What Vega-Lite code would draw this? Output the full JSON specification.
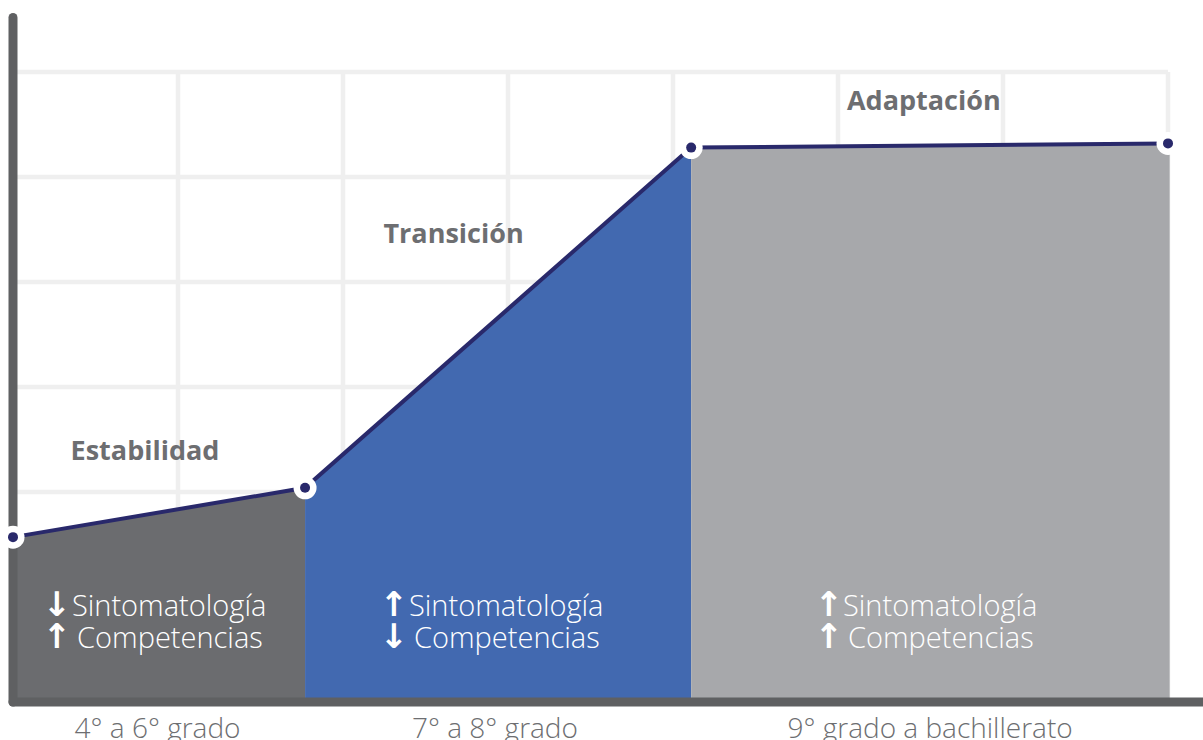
{
  "$schema": "https://vega.github.io/schema/vega-lite/v6.json",
  "width": 1190,
  "height": 685,
  "autosize": {"type": "none"},
  "padding": {"left": 13, "top": 17, "right": 0, "bottom": 38},
  "background": "white",
  "config": {"view": {"stroke": null}},
  "datasets": {
    "vgrid": [{"gx": 1, "y0": 0, "y1": 6}, {"gx": 2, "y0": 0, "y1": 6}, {"gx": 3, "y0": 0, "y1": 6}, {"gx": 4, "y0": 0, "y1": 6}, {"gx": 5, "y0": 0, "y1": 6}, {"gx": 6, "y0": 0, "y1": 6}, {"gx": 7, "y0": 0, "y1": 6}],
    "hgrid": [{"gy": 1, "x0": 0, "x1": 7}, {"gy": 2, "x0": 0, "x1": 7}, {"gy": 3, "x0": 0, "x1": 7}, {"gy": 4, "x0": 0, "x1": 7}, {"gy": 5, "x0": 0, "x1": 7}, {"gy": 6, "x0": 0, "x1": 7}],
    "segments": [
      {"seg": "A", "x": 0, "y": 1.57},
      {"seg": "A", "x": 1.77, "y": 2.04},
      {"seg": "B", "x": 1.77, "y": 2.04},
      {"seg": "B", "x": 4.11, "y": 5.28},
      {"seg": "C", "x": 4.11, "y": 5.28},
      {"seg": "C", "x": 7.01, "y": 5.32}
    ],
    "points": [
      {"x": 0, "y": 1.57},
      {"x": 1.77, "y": 2.04},
      {"x": 4.11, "y": 5.28},
      {"x": 7.0, "y": 5.32}
    ],
    "axes": [
      {"axis": "x", "x0": 0, "x1": 7.22, "y0": 0, "y1": 0},
      {"axis": "y", "x0": 0, "x1": 0, "y0": 0, "y1": 6.52}
    ],
    "titles": [
      {"label": "Estabilidad", "x": 0.8, "y": 2.3},
      {"label": "Transición", "x": 2.67, "y": 4.37},
      {"label": "Adaptación", "x": 5.52, "y": 5.64}
    ],
    "inner": [
      {"label": "Sintomatología", "x": 0.357, "y": 0.82},
      {"label": "Competencias", "x": 0.388, "y": 0.51},
      {"label": "Sintomatología", "x": 2.40, "y": 0.82},
      {"label": "Competencias", "x": 2.43, "y": 0.51},
      {"label": "Sintomatología", "x": 5.03, "y": 0.82},
      {"label": "Competencias", "x": 5.06, "y": 0.51}
    ],
    "arrows": [
      {"label": "↓", "x": 0.267, "y": 0.82},
      {"label": "↑", "x": 0.267, "y": 0.51},
      {"label": "↑", "x": 2.309, "y": 0.82},
      {"label": "↓", "x": 2.309, "y": 0.51},
      {"label": "↑", "x": 4.945, "y": 0.82},
      {"label": "↑", "x": 4.945, "y": 0.51}
    ],
    "bottom": [
      {"label": "4° a 6° grado", "x": 0.876, "y": -0.34},
      {"label": "7° a 8° grado", "x": 2.921, "y": -0.34},
      {"label": "9° grado a bachillerato", "x": 5.558, "y": -0.34}
    ]
  },
  "layer": [
    {
      "data": {"name": "vgrid"},
      "mark": {"type": "rule", "color": "#efefef", "strokeWidth": 4.5},
      "encoding": {
        "x": {"field": "gx", "type": "quantitative", "scale": {"domain": [0, 7.2121], "nice": false, "zero": false}, "axis": null},
        "y": {"field": "y0", "type": "quantitative", "scale": {"domain": [0, 6.5238], "nice": false, "zero": false}, "axis": null},
        "y2": {"field": "y1"}
      }
    },
    {
      "data": {"name": "hgrid"},
      "mark": {"type": "rule", "color": "#efefef", "strokeWidth": 4.5},
      "encoding": {
        "y": {"field": "gy", "type": "quantitative", "axis": null},
        "x": {"field": "x0", "type": "quantitative", "axis": null},
        "x2": {"field": "x1"}
      }
    },
    {
      "data": {"name": "segments"},
      "mark": {"type": "area", "opacity": 1},
      "encoding": {
        "x": {"field": "x", "type": "quantitative", "axis": null},
        "y": {"field": "y", "type": "quantitative", "axis": null, "stack": null},
        "color": {"field": "seg", "type": "nominal", "scale": {"domain": ["A", "B", "C"], "range": ["#6b6c6f", "#4269b0", "#a7a8ab"]}, "legend": null}
      }
    },
    {
      "data": {"name": "points"},
      "mark": {"type": "line", "color": "#29296b", "strokeWidth": 4},
      "encoding": {
        "x": {"field": "x", "type": "quantitative", "axis": null},
        "y": {"field": "y", "type": "quantitative", "axis": null}
      }
    },
    {
      "data": {"name": "axes"},
      "mark": {"type": "rule", "color": "#5f6062", "strokeWidth": 9, "strokeCap": "round"},
      "encoding": {
        "x": {"field": "x0", "type": "quantitative", "axis": null},
        "x2": {"field": "x1"},
        "y": {"field": "y0", "type": "quantitative", "axis": null},
        "y2": {"field": "y1"}
      }
    },
    {
      "data": {"name": "points"},
      "mark": {"type": "point", "shape": "circle", "filled": true, "color": "white", "opacity": 1, "size": 530},
      "encoding": {
        "x": {"field": "x", "type": "quantitative", "axis": null},
        "y": {"field": "y", "type": "quantitative", "axis": null}
      }
    },
    {
      "data": {"name": "points"},
      "mark": {"type": "point", "shape": "circle", "filled": true, "color": "#29296b", "opacity": 1, "size": 100},
      "encoding": {
        "x": {"field": "x", "type": "quantitative", "axis": null},
        "y": {"field": "y", "type": "quantitative", "axis": null}
      }
    },
    {
      "data": {"name": "titles"},
      "mark": {"type": "text", "font": "Open Sans", "fontWeight": "bold", "fontSize": 27, "color": "#6d6e71", "align": "center", "baseline": "alphabetic"},
      "encoding": {
        "x": {"field": "x", "type": "quantitative", "axis": null},
        "y": {"field": "y", "type": "quantitative", "axis": null},
        "text": {"field": "label"}
      }
    },
    {
      "data": {"name": "inner"},
      "mark": {"type": "text", "font": "Open Sans", "fontWeight": 300, "fontSize": 29, "color": "white", "align": "left", "baseline": "alphabetic"},
      "encoding": {
        "x": {"field": "x", "type": "quantitative", "axis": null},
        "y": {"field": "y", "type": "quantitative", "axis": null},
        "text": {"field": "label"}
      }
    },
    {
      "data": {"name": "arrows"},
      "mark": {"type": "text", "font": "DejaVu Sans", "fontWeight": "bold", "fontSize": 34, "color": "white", "align": "center", "baseline": "alphabetic"},
      "encoding": {
        "x": {"field": "x", "type": "quantitative", "axis": null},
        "y": {"field": "y", "type": "quantitative", "axis": null},
        "text": {"field": "label"}
      }
    },
    {
      "data": {"name": "bottom"},
      "mark": {"type": "text", "font": "Open Sans", "fontWeight": 300, "fontSize": 28, "color": "#6d6e71", "align": "center", "baseline": "alphabetic"},
      "encoding": {
        "x": {"field": "x", "type": "quantitative", "axis": null},
        "y": {"field": "y", "type": "quantitative", "axis": null},
        "text": {"field": "label"}
      }
    }
  ]
}
